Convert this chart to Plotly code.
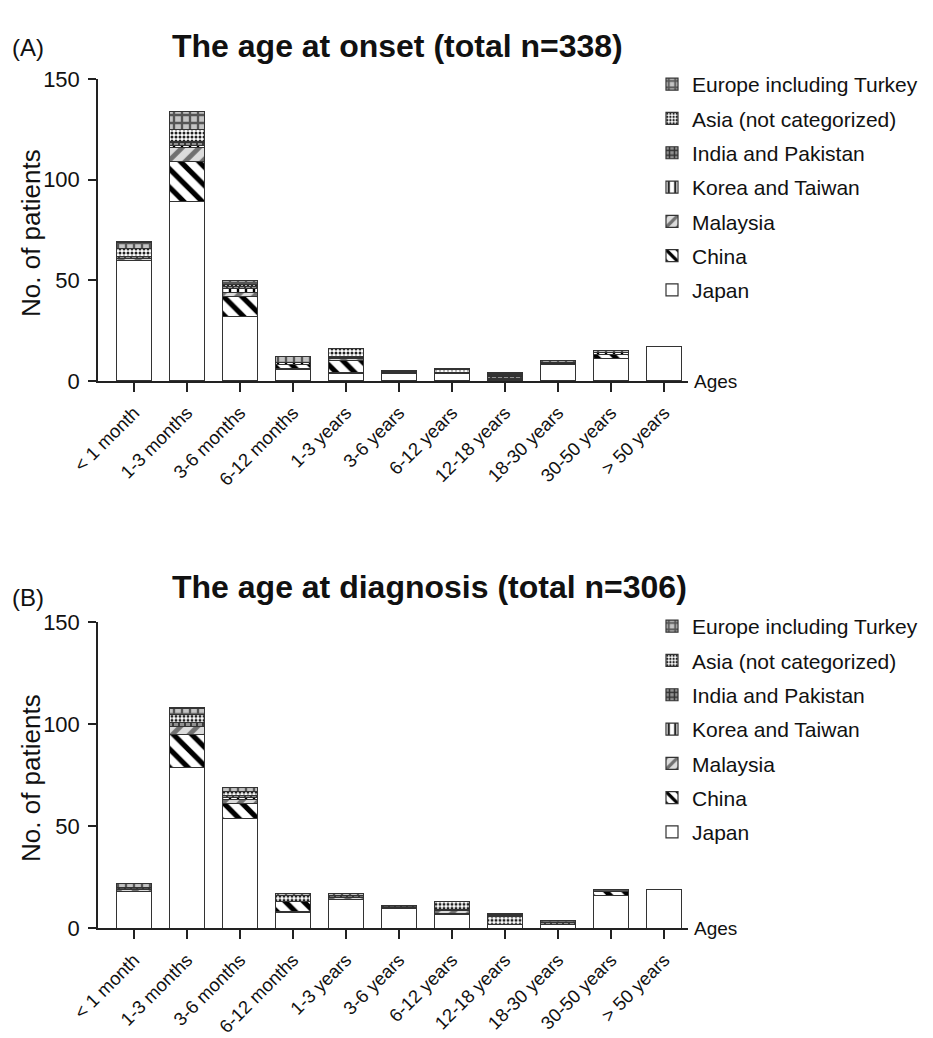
import plotly.graph_objects as go

categories = ["< 1 month", "1-3 months", "3-6 months", "6-12 months", "1-3 years",
              "3-6 years", "6-12 years", "12-18 years", "18-30 years", "30-50 years", "> 50 years"]
regions = ["Japan", "China", "Malaysia", "Korea and Taiwan", "India and Pakistan",
           "Asia (not categorized)", "Europe including Turkey"]

# (A) age at onset
japan_a = [60, 89, 32, 6, 4, 4, 4, 1, 8, 11, 17]
china_a = [0, 20, 10, 2, 6, 0, 0, 0, 0, 2, 0]
malaysia_a = [1, 7, 2, 0, 1, 0, 0, 0, 0, 0, 0]
korea_a = [0, 1, 2, 1, 0, 0, 0, 0, 0, 1, 0]
india_a = [1, 2, 1, 0, 1, 0, 0, 2, 1, 0, 0]
asia_a = [4, 6, 1, 0, 4, 1, 2, 0, 0, 0, 0]
europe_a = [3, 9, 2, 3, 0, 0, 0, 1, 1, 1, 0]

# (B) age at diagnosis
japan_b = [18, 79, 54, 8, 14, 10, 7, 2, 2, 16, 19]
china_b = [0, 16, 7, 5, 0, 0, 0, 0, 0, 2, 0]
malaysia_b = [1, 4, 2, 0, 1, 0, 2, 0, 0, 0, 0]
korea_b = [0, 0, 1, 0, 0, 0, 0, 0, 0, 0, 0]
india_b = [1, 2, 1, 0, 1, 1, 0, 0, 1, 0, 0]
asia_b = [0, 4, 2, 3, 0, 0, 4, 4, 0, 0, 0]
europe_b = [2, 3, 2, 1, 1, 0, 0, 1, 1, 1, 0]

series_a = [japan_a, china_a, malaysia_a, korea_a, india_a, asia_a, europe_a]
series_b = [japan_b, china_b, malaysia_b, korea_b, india_b, asia_b, europe_b]

patterns = [
    dict(shape=""),
    dict(shape="\\", bgcolor="white", fgcolor="black", size=13, solidity=0.4, fillmode="replace"),
    dict(shape="/", bgcolor="#dcdcdc", fgcolor="#707070", size=12, solidity=0.4, fillmode="replace"),
    dict(shape="|", bgcolor="white", fgcolor="black", size=8, solidity=0.3, fillmode="replace"),
    dict(shape="+", bgcolor="#909090", fgcolor="#303030", size=6, solidity=0.5, fillmode="replace"),
    dict(shape=".", bgcolor="white", fgcolor="#222222", size=4, solidity=0.45, fillmode="replace"),
    dict(shape="+", bgcolor="#c4c4c4", fgcolor="#555555", size=8, solidity=0.5, fillmode="replace"),
]

W, H = 933, 1038
FONT = "Liberation Sans, Arial, sans-serif"

fig = go.Figure()
for sets, xa, ya, lg in [(series_a, "x", "y", "legend"), (series_b, "x2", "y2", "legend2")]:
    for i, (name, vals) in enumerate(zip(regions, sets)):
        fig.add_trace(go.Bar(
            x=categories, y=vals, name=name, xaxis=xa, yaxis=ya, legend=lg,
            legendgroup=name + lg, legendrank=100 - i,
            marker=dict(color="white", pattern=patterns[i], line=dict(color="#333333", width=1.2)),
            hoverinfo="name+y",
        ))

def px_x(p):
    return p / W

def px_y(p):
    return 1 - p / H

xdom = [px_x(98), px_x(688)]
axis_common = dict(showline=True, linecolor="#222222", linewidth=1.5, showgrid=False, zeroline=False,
                   ticks="outside", tickcolor="#222222", tickwidth=1.5, automargin=False)
xaxis_common = dict(axis_common, ticklen=9, tickangle=-45, range=[-0.68, 10.45], type="category",
                    ticklabelstandoff=3,
                    tickfont=dict(family=FONT, size=18.5, color="#111111"))
yaxis_common = dict(axis_common, ticklen=8, range=[0, 150], tickvals=[0, 50, 100, 150],
                    ticklabelstandoff=4,
                    tickfont=dict(family=FONT, size=22, color="#111111"))

legend_common = dict(font=dict(family=FONT, size=21, color="#111111"), traceorder="grouped",
                     tracegroupgap=4, bgcolor="rgba(0,0,0,0)", xanchor="left", yanchor="top")

def ann(text, x, y, size, bold=False, angle=0, xanchor="left"):
    return dict(text=f"<b>{text}</b>" if bold else text, x=px_x(x), y=px_y(y), xref="paper", yref="paper",
                xanchor=xanchor, yanchor="middle", showarrow=False, textangle=angle,
                font=dict(family=FONT, size=size, color="#111111"))

fig.update_layout(
    width=W, height=H,
    margin=dict(l=0, r=0, t=0, b=0, autoexpand=False),
    paper_bgcolor="white", plot_bgcolor="white",
    barmode="stack", bargap=0.34,
    xaxis=dict(xaxis_common, domain=xdom, anchor="y"),
    yaxis=dict(yaxis_common, domain=[px_y(381), px_y(79)], anchor="x"),
    xaxis2=dict(xaxis_common, domain=xdom, anchor="y2"),
    yaxis2=dict(yaxis_common, domain=[px_y(928.3), px_y(622.3)], anchor="x2"),
    legend=dict(legend_common, x=px_x(652), y=px_y(64)),
    legend2=dict(legend_common, x=px_x(652), y=px_y(606)),
    showlegend=True,
    annotations=[
        ann("(A)", 10, 48, 24),
        ann("The age at onset (total n=338)", 170, 46, 32, bold=True),
        ann("(B)", 10, 597, 24),
        ann("The age at diagnosis (total n=306)", 170, 587, 32, bold=True),
        ann("No. of patients", 31, 233, 26, angle=-90, xanchor="center"),
        ann("No. of patients", 31, 778, 26, angle=-90, xanchor="center"),
        ann("Ages", 692, 381, 19),
        ann("Ages", 692, 928, 19),
    ],
)

fig.write_html("out.html", config={"displayModeBar": False},
               post_script="document.body.style.margin='0';document.body.style.overflow='hidden';")
